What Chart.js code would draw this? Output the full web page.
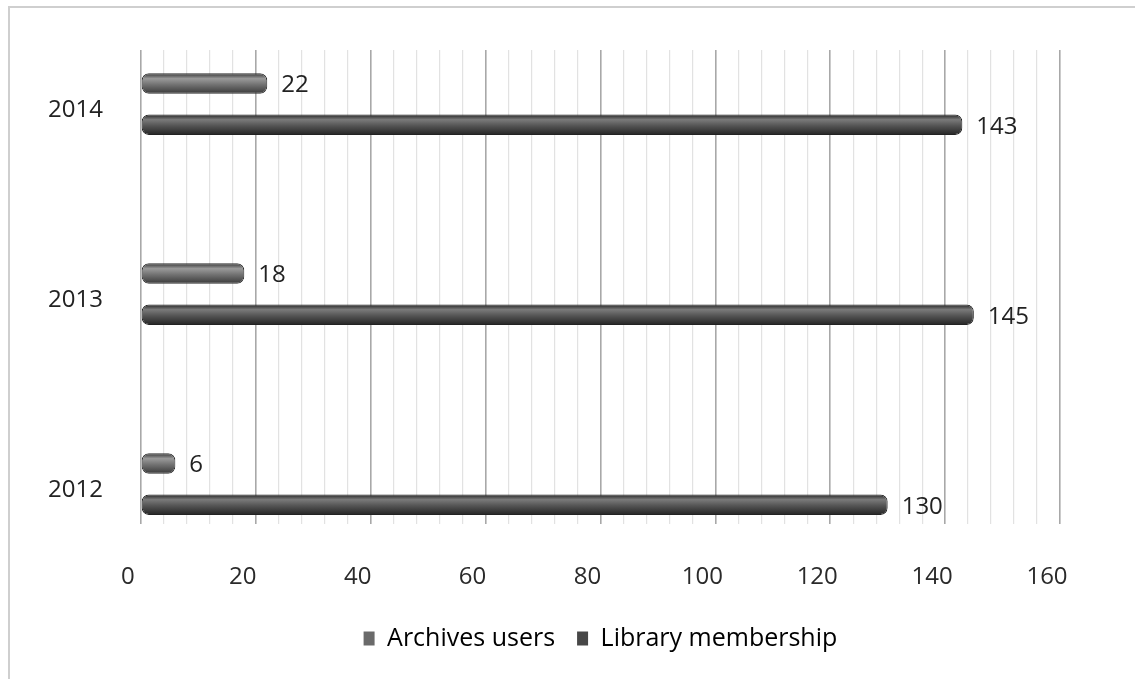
<!DOCTYPE html>
<html>
<head>
<meta charset="utf-8">
<script src="https://cdn.jsdelivr.net/npm/chart.js@4.4.1/dist/chart.umd.min.js"></script>
<style>
  html, body { margin: 0; padding: 0; background: #fff; }
  #wrap {
    position: absolute; left: 8px; top: 6px;
    width: 1127px; height: 673px;
    border-left: 2px solid #cfcfcf; border-top: 2px solid #cfcfcf;
  }
  #chart { display: block; }
</style>
</head>
<body>
<div id="wrap"><canvas id="chart" width="1125" height="671"></canvas></div>
<script>
const years = ['2014', '2013', '2012'];
const archivesUsers = [22, 18, 6];
const libraryMembership = [143, 145, 130];
const xTicks = [0, 20, 40, 60, 80, 100, 120, 140, 160];

const FONT = '"Open Sans", sans-serif';

// cylinder-ish shading: vertical gradient across each bar
function cylinder(light, mid, dark, offset) {
  return ctx => {
    const chart = ctx.chart;
    const y = chart.scales && chart.scales.y;
    if (!y || ctx.dataIndex === undefined || !chart.chartArea) return mid;
    const c = y.getPixelForValue(ctx.dataIndex) + offset;
    const g = chart.ctx.createLinearGradient(0, c - 10, 0, c + 10);
    g.addColorStop(0, dark);
    g.addColorStop(0.25, light);
    g.addColorStop(0.55, mid);
    g.addColorStop(1, dark);
    return g;
  };
}

const valueLabels = {
  id: 'valueLabels',
  afterDatasetsDraw(chart) {
    const ctx = chart.ctx;
    ctx.save();
    ctx.font = '24px ' + FONT;
    ctx.fillStyle = '#222';
    ctx.textAlign = 'left';
    ctx.textBaseline = 'middle';
    chart.data.datasets.forEach((ds, i) => {
      chart.getDatasetMeta(i).data.forEach((bar, j) => {
        ctx.fillText(ds.data[j].x, bar.x + 14, bar.y + 2);
      });
    });
    ctx.restore();
  }
};

new Chart(document.getElementById('chart'), {
  type: 'bar',
  data: {
    datasets: [
      {
        label: 'Archives users',
        data: archivesUsers.map((v, i) => ({ x: v, y: i })),
        backgroundColor: cylinder('#9a9a9a', '#727272', '#3a3a3a', -20.5),
        borderColor: '#2e2e2e',
        borderWidth: 1,
        borderRadius: 7,
        borderSkipped: false
      },
      {
        label: 'Library membership',
        data: libraryMembership.map((v, i) => ({ x: v, y: i })),
        backgroundColor: cylinder('#7a7a7a', '#555555', '#262626', 20.5),
        borderColor: '#222',
        borderWidth: 1,
        borderRadius: 7,
        borderSkipped: false
      }
    ]
  },
  options: {
    indexAxis: 'y',
    responsive: false,
    animation: false,
    categoryPercentage: 0.433,
    barPercentage: 0.5,
    layout: { padding: { left: 0, right: 75, top: 42, bottom: 18 } },
    scales: {
      x: {
        type: 'linear',
        min: 0,
        max: 160,
        afterBuildTicks: s => {
          const t = [];
          for (let v = 0; v <= 160; v += 4) t.push({ value: v });
          s.ticks = t;
        },
        afterFit: s => { s.height = 80; s.paddingLeft = 0; s.paddingRight = 0; },
        border: { display: false },
        grid: {
          drawTicks: false,
          color: c => (c.tick && c.tick.value % 20 === 0) ? '#a8a8a8' : '#e2e2e2',
          lineWidth: c => (c.tick && c.tick.value % 20 === 0) ? 1.6 : 1.2
        },
        ticks: {
          autoSkip: false,
          maxRotation: 0,
          padding: 39,
          labelOffset: -13,
          color: '#2a2a2a',
          font: { family: FONT, size: 24 },
          callback: v => xTicks.includes(v) ? String(v) : ''
        }
      },
      y: {
        type: 'linear',
        reverse: true,
        offset: false,
        min: -0.285,
        max: 2.21,
        afterBuildTicks: s => { s.ticks = years.map((_, i) => ({ value: i })); },
        afterFit: s => { s.paddingTop = 0; s.paddingBottom = 0; },
        border: { display: false },
        grid: { display: false, drawTicks: false, offset: false },
        ticks: {
          padding: 38,
          labelOffset: 6,
          color: '#222',
          font: { family: FONT, size: 24 },
          callback: v => years[v]
        }
      }
    },
    plugins: {
      legend: {
        position: 'bottom',
        fullSize: false,
        labels: {
          boxWidth: 11,
          boxHeight: 14,
          padding: 22,
          color: '#222',
          font: { family: FONT, size: 25 },
          generateLabels: chart => chart.data.datasets.map((ds, i) => ({
            text: ds.label,
            fillStyle: i === 0 ? '#6a6a6a' : '#474747',
            strokeStyle: i === 0 ? '#6a6a6a' : '#474747',
            lineWidth: 0,
            datasetIndex: i
          }))
        }
      },
      tooltip: { enabled: false }
    }
  },
  plugins: [valueLabels]
});
</script>
</body>
</html>
